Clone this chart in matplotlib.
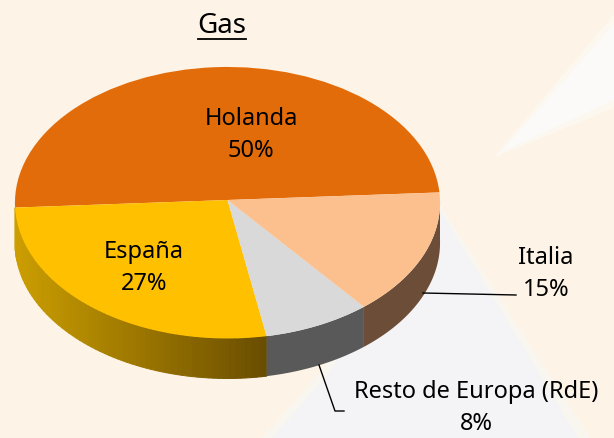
import numpy as np
import matplotlib
matplotlib.use("Agg")
import matplotlib.pyplot as plt
from matplotlib.patches import Polygon
from matplotlib.transforms import Transform

paises = ["Holanda", "España", "Resto de Europa (RdE)", "Italia"]
valores = [50, 27, 8, 15]
colores = ["#E36C0A", "#FFC000", "#D9D9D9", "#FCC08F"]
lados = ["#8A4306", "#FFC000", "#595959", "#6B4D38"]
titulo = "Gas"

W, H = 614, 438
CX, CY = 227.5, 200.0
RX = 212.5
RY = 135.7
K = 0.02
PROF = 40.0
INICIO = 3.2


def proyectar(x, y):
    # perspectiva: el circulo unidad pasa a la elipse en pixeles
    d = 1 + K * y
    return CX + RX * x / d, CY - RY * y / d


class Perspectiva(Transform):
    input_dims = output_dims = 2

    def transform_non_affine(self, values):
        values = np.asarray(values)
        return np.column_stack(proyectar(values[:, 0], values[:, 1]))


plt.rcParams["font.family"] = ["Noto Sans", "DejaVu Sans"]

fig = plt.figure(figsize=(W / 100, H / 100), dpi=100, facecolor="#FDF4E7")
ax = fig.add_axes([0, 0, 1, 1])

wedges, _ = ax.pie(valores, colors=colores, startangle=INICIO, radius=1, wedgeprops={"linewidth": 0})
ax.set_aspect("auto")
ax.set_xlim(0, W)
ax.set_ylim(H, 0)
ax.axis("off")
for w in wedges:
    w.set_transform(Perspectiva() + ax.transData)
    w.set_zorder(3)

# fondo
ax.add_patch(Polygon([(440, 205), (590, 438), (262, 438), (322, 370)], fc="#F9F6F0", ec="none", zorder=0))
ax.add_patch(Polygon([(440, 210), (578, 438), (272, 438), (328, 374)], fc="#F4F4F6", ec="none", zorder=0.1))
ax.add_patch(Polygon([(493, 158), (614, 14), (614, 108)], fc="#FCF7EF", ec="none", zorder=0))
ax.add_patch(Polygon([(500, 153), (614, 24), (614, 100)], fc="#FBFAF8", ec="none", zorder=0.1))

# pared lateral, solo la mitad de abajo se ve
ang = INICIO
for i in range(len(valores)):
    fin = ang + valores[i] * 3.6
    a0, a1 = max(ang, 180), min(fin, 360)
    if a1 > a0:
        degradado = paises[i] == "España"
        trozos = np.linspace(a0, a1, 70) if degradado else np.array([a0, a1])
        for t0, t1 in zip(trozos[:-1], trozos[1:]):
            th = np.radians(np.linspace(t0, t1, 60))
            x, y = proyectar(np.cos(th), np.sin(th))
            color = lados[i]
            if degradado:
                # mas oscuro hacia la derecha
                f = np.clip((x[0] - 15) / 250, 0, 1)
                color = np.array([0.80, 0.62, 0.0]) * (1 - f) + np.array([0.41, 0.30, 0.0]) * f
            ax.add_patch(Polygon(np.column_stack([np.r_[x, x[::-1]], np.r_[y, y[::-1] + PROF]]),
                                 fc=color, ec=color if degradado else "none", lw=0.7, zorder=2))
    ang = fin

txt = {"fontsize": 17, "color": "black", "ha": "center", "va": "center", "linespacing": 1.4, "zorder": 5}
ax.text(222, 26, titulo, fontsize=20, ha="center", va="center", zorder=5)
ax.plot([198, 246], [38.5, 38.5], color="black", lw=1.3, zorder=5)
ax.text(251, 135, f"{paises[0]}\n{valores[0]}%", **txt)
ax.text(144, 268, f"{paises[1]}\n{valores[1]}%", **txt)
ax.text(546, 274, f"{paises[3]}\n{valores[3]}%", **txt)
ax.text(476, 408, f"{paises[2]}\n{valores[2]}%", **txt)
ax.plot([423, 516], [293, 295], color="black", lw=1, zorder=5)
ax.plot([319, 335, 344], [365, 411, 411], color="black", lw=1, zorder=5)

fig.savefig("out.png", dpi=100, facecolor=fig.get_facecolor())
